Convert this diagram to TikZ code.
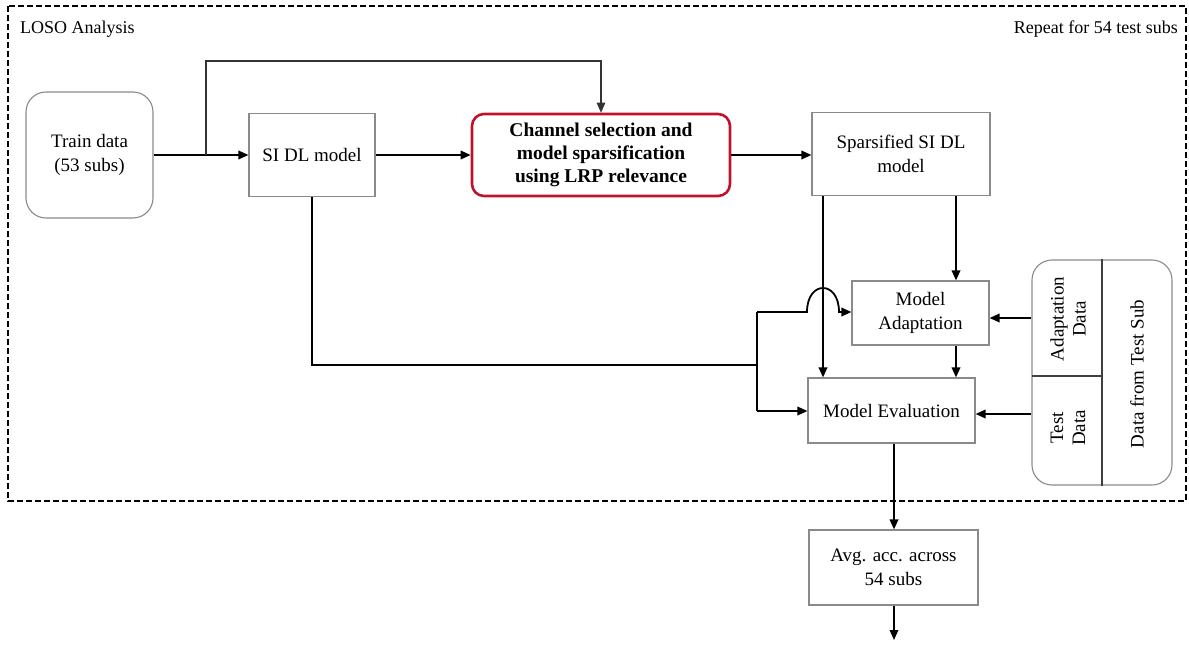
\documentclass[tikz,border=0pt]{standalone}
\usepackage{fontspec}
\setmainfont{Liberation Serif}
\usetikzlibrary{arrows.meta,calc}
\definecolor{boxgray}{HTML}{8A8A8A}
\definecolor{redbox}{HTML}{C0132B}
\tikzset{
  base/.style={draw=boxgray,line width=1.1pt,inner sep=0pt,align=center,font=\fontsize{19}{23.5}\selectfont},
  plainbox/.style={base},
  roundbox/.style={base,rounded corners=20pt},
  redstyle/.style={base,draw=redbox,line width=2.6pt,rounded corners=12pt,font=\fontsize{19.5}{23}\selectfont\bfseries},
  arr/.style={line width=1.8pt,-{Triangle[length=10pt,width=8.5pt]}},
  ln/.style={line width=1.8pt},
  thinarr/.style={line width=1.2pt,draw=black!80,-{Triangle[length=10pt,width=8.5pt]}},
  rtext/.style={rotate=90,align=center,font=\fontsize{19}{22}\selectfont,inner sep=0pt},
  hdr/.style={font=\fontsize{18}{21}\selectfont,inner sep=0pt}
}
\begin{document}
\begin{tikzpicture}[x=1pt,y=-1pt]
\useasboundingbox (0,0) rectangle (1189,645);
% frame
\draw[line width=2.3pt,dash pattern=on 6pt off 3pt] (8,6) rectangle (1186,501);
\node[hdr,anchor=base west] (loso) at (20,33) {LOSO Analysis};
\node[hdr,anchor=base east] (rep) at (1178,33) {Repeat for 54 test subs};
% nodes
\node[roundbox,minimum width=127pt,minimum height=126pt] (train) at (89.5,155) {Train data\\(53 subs)};
\node[plainbox,minimum width=126pt,minimum height=83pt] (sidl) at (312,155) {SI DL model};
\node[redstyle,minimum width=258pt,minimum height=82pt] (chan) at (601,155) {Channel selection and\\model sparsification\\using LRP relevance};
\node[plainbox,minimum width=178pt,minimum height=83pt] (spars) at (901,154) {Sparsified SI DL\\model};
\node[plainbox,minimum width=137pt,minimum height=64pt] (adapt) at (920.5,313) {Model\\Adaptation};
\node[plainbox,minimum width=167pt,minimum height=65pt] (eval) at (891.5,410.5) {Model Evaluation};
\node[plainbox,minimum width=169pt,minimum height=75pt] (avg) at (893.5,567.5) {Avg. acc. across\\54 subs};
\node[roundbox,minimum width=140pt,minimum height=225pt] (datab) at (1102,372.5) {};
\draw[line width=1.1pt,black!75] (datab.north) -- (datab.south);
\coordinate (hd) at (1032,376);
\draw[line width=1.1pt,black!75] (hd) -- (hd -| datab.north);
\node[rtext] (adtxt) at (1068,319) {Adaptation\\Data};
\node[rtext] (testtxt) at (1068,428) {Test\\Data};
\node[rtext] (fromtxt) at (1137,374) {Data from Test Sub};
% connectors
\coordinate (br) at (206,155);
\coordinate (top) at (206,61);
\draw[arr] (train.east |- br) -- (sidl.west |- br);
\draw[thinarr] (br) -- (top) -| (chan.north);
\draw[arr] (sidl.east |- br) -- (chan.west |- br);
\draw[arr] (chan.east |- br) -- (spars.west |- br);
\coordinate (sx1) at (823,0);
\coordinate (sx2) at (956,0);
\draw[arr] (spars.south -| sx1) -- (eval.north -| sx1);
\draw[arr] (spars.south -| sx2) -- (adapt.north -| sx2);
\draw[arr] (adapt.south -| sx2) -- (eval.north -| sx2);
% loop from SI DL
\coordinate (lb) at (312,365);
\coordinate (jn) at (757,365);
\coordinate (jt) at (757,312);
\coordinate (jb) at (757,411);
\coordinate (h1) at (807,312);
\coordinate (h2) at (839,312);
\draw[ln] (sidl.south) -- (lb) -- (jn);
\draw[ln] (jt) -- (jb);
\draw[arr] (jt) -- (h1) .. controls (807,280) and (839,280) .. (h2) -- (adapt.west |- h2);
\draw[arr] (jb) -- (eval.west |- jb);
% data arrows
\coordinate (ya) at (0,318);
\coordinate (ye) at (0,414);
\draw[arr] (datab.west |- ya) -- (adapt.east |- ya);
\draw[arr] (datab.west |- ye) -- (eval.east |- ye);
% output
\coordinate (ox) at (894,0);
\coordinate (endp) at (894,640);
\draw[arr] (eval.south -| ox) -- (avg.north -| ox);
\draw[arr] (avg.south -| ox) -- (endp);
\end{tikzpicture}
\end{document}
